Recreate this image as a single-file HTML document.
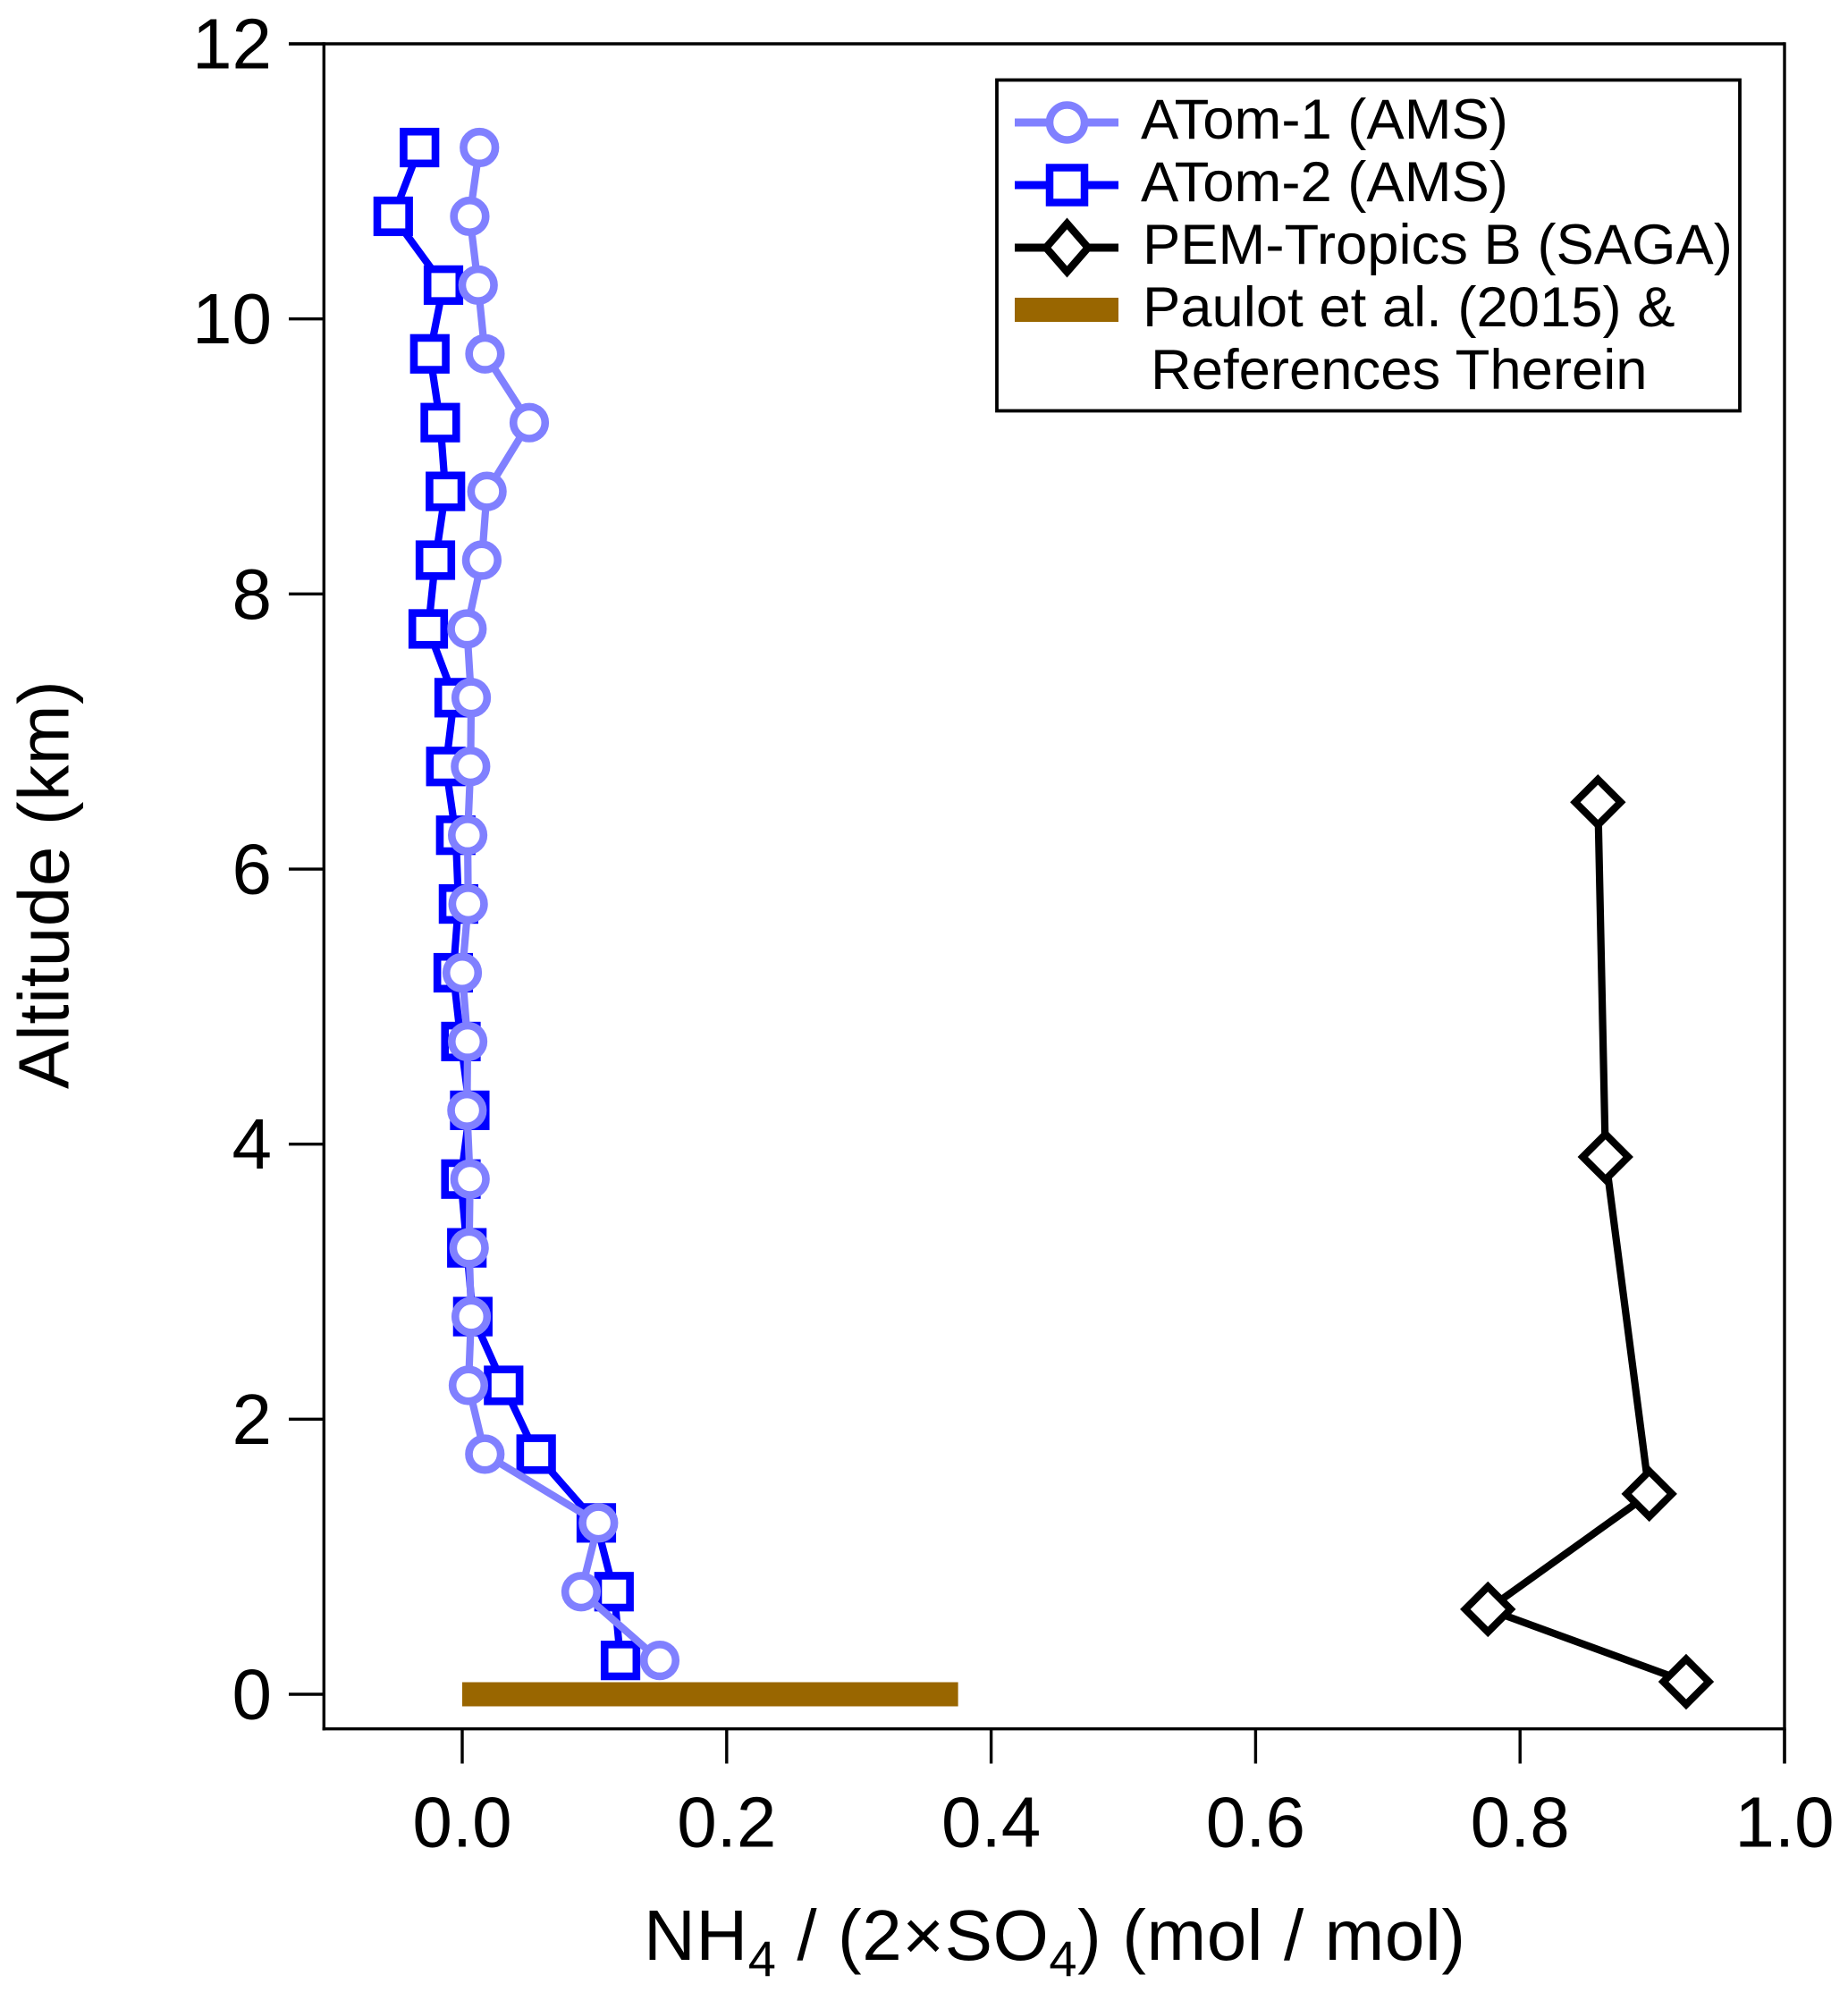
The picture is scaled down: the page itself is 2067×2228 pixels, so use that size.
<!DOCTYPE html>
<html lang="en">
<head>
<meta charset="utf-8">
<title>NH4 / (2×SO4) vs Altitude</title>
<style>
html,body{margin:0;padding:0;background:#fff;}
svg{display:block;}
text{font-family:"Liberation Sans",Arial,sans-serif;fill:#000;}
</style>
</head>
<body>
<svg id="chart" xmlns="http://www.w3.org/2000/svg" width="2067" height="2228" viewBox="0 0 2067 2228">
  <rect x="0" y="0" width="2067" height="2228" fill="#ffffff"/>
  <g id="marks"></g>
  <g id="axes"></g>

  <text transform="translate(76.5,1218) rotate(-90)" font-size="80" letter-spacing="0.65">Altitude (km)</text>
  <text x="720" y="2192" font-size="80" letter-spacing="0.6">NH<tspan font-size="56" dy="18">4</tspan><tspan dy="-18"> / (2×SO</tspan><tspan font-size="56" dy="18">4</tspan><tspan dy="-18">) (mol / mol)</tspan></text>

  <g>
    <rect x="1115" y="89.5" width="831" height="370" fill="#ffffff" stroke="#000" stroke-width="3.8"/>
    <g>
      <line x1="1135" y1="137" x2="1251" y2="137" stroke="#8080ff" stroke-width="9"/>
      <circle cx="1193.5" cy="137" r="19.5" fill="#fff" stroke="#8080ff" stroke-width="8.5"/>
      <text x="1276" y="155" font-size="63.4">ATom-1 (AMS)</text>
    </g>
    <g>
      <line x1="1135" y1="207" x2="1251" y2="207" stroke="#0000ff" stroke-width="9"/>
      <rect x="1174" y="187.5" width="39" height="39" fill="#fff" stroke="#0000ff" stroke-width="8.5"/>
      <text x="1276" y="225" font-size="63.4">ATom-2 (AMS)</text>
    </g>
    <g>
      <line x1="1135" y1="277" x2="1251" y2="277" stroke="#000" stroke-width="9"/>
      <polygon points="1193.5,250 1217,277 1193.5,304 1170,277" fill="#fff" stroke="#000" stroke-width="8.5"/>
      <text x="1278" y="295" font-size="63.4">PEM-Tropics B (SAGA)</text>
    </g>
    <g>
      <rect x="1135" y="333" width="116" height="27" fill="#996600"/>
      <text x="1278" y="365" font-size="63.4">Paulot et al. (2015) &amp;</text>
      <text x="1287" y="435" font-size="63.4">References Therein</text>
    </g>
  </g>
</svg>
<script>
// Altitude bin centres (km) for both ATom profiles
const atomAltitudes = [0.246,0.746,1.246,1.746,2.246,2.746,3.246,3.746,4.246,4.746,5.246,5.746,6.246,6.746,7.246,7.746,8.246,8.746,9.246,9.746,10.246,10.746,11.246];
// NH4 / (2xSO4)
const atom1Values = [0.1494,0.0899,0.103,0.0171,0.0047,0.0068,0.0052,0.0059,0.0036,0.0041,0,0.0045,0.0041,0.0063,0.0068,0.0036,0.0148,0.0187,0.0507,0.0172,0.012,0.0057,0.013];
const atom2Values = [0.1197,0.1148,0.1014,0.0559,0.0313,0.008,0.0035,-0.001,0.0057,-0.001,-0.0068,-0.0028,-0.0049,-0.0124,-0.0061,-0.0257,-0.0203,-0.0127,-0.0166,-0.0245,-0.0142,-0.0522,-0.0323];
const pemAltitudes = [0.091,0.618,1.457,3.907,6.486];
const pemValues = [0.9256,0.7757,0.8977,0.8646,0.8589];
const paulotRange = [0,0.375];
const paulotAltitude = 0;
const xTickValues = [0,0.2,0.4,0.6,0.8,1.0];
const xTickLabels = ["0.0","0.2","0.4","0.6","0.8","1.0"];
const yTickValues = [0,2,4,6,8,10,12];
const yTickLabels = ["0","2","4","6","8","10","12"];

const NS = "http://www.w3.org/2000/svg";
function xScale(v){ return 517 + v * 1479; }
function yScale(v){ return 1895 - v * 153.83; }

const marks = document.getElementById("marks");
const axes = document.getElementById("axes");

function make(tag, attrs, parent){
  const el = document.createElementNS(NS, tag);
  for (const k in attrs) el.setAttribute(k, attrs[k]);
  parent.appendChild(el);
  return el;
}

// Frame
const frameTop = make("line",{x1:323,y1:49,x2:1996,y2:49,stroke:"#000","stroke-width":3.4},axes);


const frameLeft = make("line",{x1:362.3,y1:47.3,x2:362.3,y2:1935.4,stroke:"#000","stroke-width":3.4},axes);


const frameBottom = make("line",{x1:360.6,y1:1933.7,x2:1997.7,y2:1933.7,stroke:"#000","stroke-width":3.4},axes);


const frameRight = make("line",{x1:1996,y1:47.3,x2:1996,y2:1972.5,stroke:"#000","stroke-width":3.4},axes);



// Ticks
yTickValues.forEach(function(v,i){
  const y = yScale(v);
  const t = make("line",{x1:323,y1:y,x2:362,y2:y,stroke:"#000","stroke-width":3.4},axes);
  
  
  const l = make("text",{x:304,y:y+27.5,"font-size":80,"text-anchor":"end"},axes);
  
  
  l.textContent = yTickLabels[i];
});
xTickValues.forEach(function(v,i){
  const x = xScale(v);
  const t = make("line",{x1:x,y1:1934,x2:x,y2:1972.5,stroke:"#000","stroke-width":3.4},axes);
  
  
  const l = make("text",{x:x,y:2065.5,"font-size":80,"text-anchor":"middle"},axes);
  
  
  l.textContent = xTickLabels[i];
});

// Paulot range bar
const paulotBar = make("rect",{
  x:xScale(paulotRange[0]),
  y:yScale(paulotAltitude)-13.5,
  width:xScale(paulotRange[1])-xScale(paulotRange[0]),
  height:27,
  fill:"#996600"
},marks);



function linePoints(xs, ys){
  return xs.map(function(v,i){ return xScale(v).toFixed(2)+","+yScale(ys[i]).toFixed(2); }).join(" ");
}

// PEM-Tropics B
const pemLine = make("polyline",{points:linePoints(pemValues,pemAltitudes),fill:"none",stroke:"#000","stroke-width":8.2,"stroke-linejoin":"round"},marks);


pemValues.forEach(function(v,i){
  const cx = xScale(v), cy = yScale(pemAltitudes[i]), d = 25.4;
  const p = make("polygon",{points:[cx,cy-d,cx+d,cy,cx,cy+d,cx-d,cy].join(" "),fill:"#fff",stroke:"#000","stroke-width":8.2},marks);
  
  
});

// ATom-2
const atom2Line = make("polyline",{points:linePoints(atom2Values,atomAltitudes),fill:"none",stroke:"#0000ff","stroke-width":8.2,"stroke-linejoin":"round"},marks);


atom2Values.forEach(function(v,i){
  const cx = xScale(v), cy = yScale(atomAltitudes[i]), s = 35.6;
  const r = make("rect",{x:cx-s/2,y:cy-s/2,width:s,height:s,fill:"#fff",stroke:"#0000ff","stroke-width":8.6},marks);
  
  
});

// ATom-1
const atom1Line = make("polyline",{points:linePoints(atom1Values,atomAltitudes),fill:"none",stroke:"#8080ff","stroke-width":8.2,"stroke-linejoin":"round"},marks);


atom1Values.forEach(function(v,i){
  const c = make("circle",{cx:xScale(v),cy:yScale(atomAltitudes[i]),r:17.8,fill:"#fff",stroke:"#8080ff","stroke-width":8.6},marks);
  
  
});
</script>
</body>
</html>
